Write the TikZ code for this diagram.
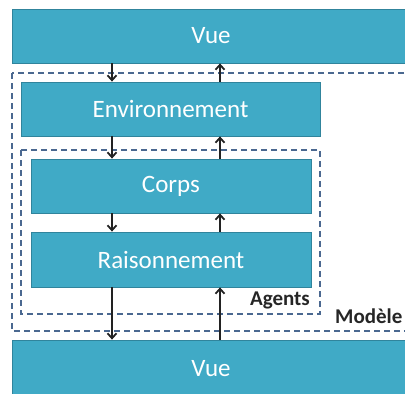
\documentclass[tikz,border=0pt]{standalone}
\usepackage{fontspec}
\setmainfont{Carlito}
\usetikzlibrary{arrows.meta}
\definecolor{boxfill}{RGB}{64,170,198}
\definecolor{boxline}{RGB}{48,132,156}
\definecolor{frameline}{RGB}{74,104,144}
\definecolor{arrowline}{RGB}{34,34,34}
\tikzset{
  layer/.style={draw=boxline,fill=boxfill,line width=0.8pt,text=white,
    inner sep=0pt,font=\fontsize{25}{29}\selectfont},
  frame/.style={draw=frameline,dashed,dash pattern=on 6pt off 4pt,line width=1.3pt},
  flow/.style={draw=arrowline,line width=1.8pt,-{Straight Barb[length=5pt,width=9pt]}},
  tag/.style={font=\fontsize{21}{24}\selectfont\bfseries,text=black!85,inner sep=0pt}
}
\begin{document}
\begin{tikzpicture}[x=1pt,y=1pt]
      \useasboundingbox (0,0) rectangle (405,-394);
      \clip (0,0) rectangle (405,-394);
      % dashed frames
      \draw[frame] (12,-73) rectangle (415,-331);
      \draw[frame] (21,-150) rectangle (320,-314);
      \node[tag,anchor=base east] (agents) at (310,-305) {Agents};
      \node[tag,anchor=base west] (modele) at (335,-323) {Modèle};
      % layers
      \node[layer,minimum width=398,minimum height=54] (vuehaut) at (211,-36) {Vue};
      \node[layer,minimum width=299,minimum height=54] (env) at (170.5,-109) {Environnement};
      \node[layer,minimum width=280,minimum height=54] (corps) at (171,-186) {Corps};
      \node[layer,minimum width=280,minimum height=55] (rais) at (171,-259.5) {Raisonnement};
      \node[layer,minimum width=398,minimum height=58] (vuebas) at (211,-369) {Vue};
      % arrow columns
      \coordinate (down) at (112,0);
      \coordinate (up) at (220,0);
      \begin{scope}[flow]
        \draw (vuehaut.south -| down) to (env.north -| down);
        \draw (env.north -| up) to (vuehaut.south -| up);
        \draw (env.south -| down) to (corps.north -| down);
        \draw (corps.north -| up) to (env.south -| up);
        \draw (corps.south -| down) to (rais.north -| down);
        \draw (rais.north -| up) to (corps.south -| up);
        \draw (rais.south -| down) to (vuebas.north -| down);
        \draw (vuebas.north -| up) to (rais.south -| up);
      \end{scope}
    \end{tikzpicture}
\end{document}
